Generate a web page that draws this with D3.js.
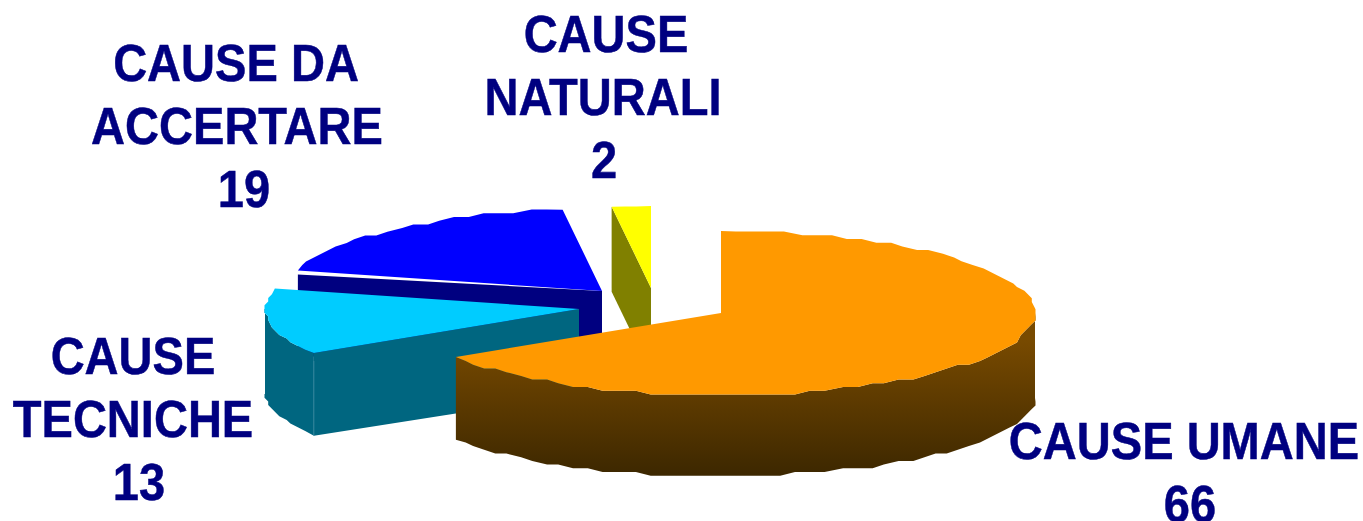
<!DOCTYPE html>
<html>
<head>
<meta charset="utf-8">
<script src="https://cdn.jsdelivr.net/npm/d3@7"></script>
<style>
    html, body { margin: 0; background: #fff; overflow: hidden; }
    svg { display: block; }
    text { font-family: "Liberation Sans", Arial, sans-serif; font-weight: bold; fill: #000080; stroke: #000080; stroke-width: 0.5px; text-anchor: middle; }
</style>
</head>
<body>
<div id="chart"></div>
<script>
const categories = ["CAUSE UMANE", "CAUSE TECNICHE", "CAUSE DA ACCERTARE", "CAUSE NATURALI"];
const values = [66, 13, 19, 2];
const topColors = ["#ff9900", "#00ccff", "#0000ff", "#ffff00"];
const sideColors = ["url(#orange-side)", "#006680", "#000080", "#808000"];

// exploded centre of each slice
const centerX = [721, 579, 602, 651];
const centerY = [313, 309, 291, 288];

const labelLines = [["CAUSE UMANE", "66"], ["CAUSE", "TECNICHE", "13"], ["CAUSE DA", "ACCERTARE", "19"], ["CAUSE", "NATURALI", "2"]];
const labelX = [[1184, 1190], [133, 133, 139], [236, 237, 244], [606, 603, 604]];
const labelY = [459, 374, 81, 52];

const width = 1363, height = 521;
const rx = 314, ry = 82, bottomRy = 78, depth = 85;
const lineGap = 63;
const stepDeg = 3, grid = 3.7;

const svg = d3.select("#chart").append("svg")
    .attr("width", width)
    .attr("height", height);

const grad = svg.append("defs").append("linearGradient")
    .attr("id", "orange-side")
    .attr("gradientUnits", "userSpaceOnUse")
    .attr("x1", 0).attr("x2", 0)
    .attr("y1", 340).attr("y2", 476);
grad.append("stop").attr("offset", 0).attr("stop-color", "#784a00");
grad.append("stop").attr("offset", 1).attr("stop-color", "#3c2700");

const arcs = d3.pie().sort(null)(values);

const line = d3.line();

// point on the rim of slice i at pie angle a
function rim(i, a, drop, r) {
    const x = d3.scaleLinear().domain([-1, 1]).range([centerX[i] - rx, centerX[i] + rx]);
    const y = d3.scaleLinear().domain([-1, 1]).range([centerY[i] + drop - r, centerY[i] + drop + r]);
    return [x(Math.sin(a)), y(-Math.cos(a))];
}

// jagged outline like the low resolution original, keeps only angles from..to
function rimPath(i, a0, a1, drop, r, from = a0, to = a1) {
    const n = Math.max(2, Math.ceil((a1 - a0) / (stepDeg * Math.PI / 180)));
    const cx = centerX[i], cy = centerY[i] + drop;
    const pts = [];
    d3.range(n + 1).forEach(k => {
        const angle = a0 + (a1 - a0) * k / n;
        if (angle < from || angle > to) return;
        const p = rim(i, angle, drop, r);
        if (k === 0 || k === n) pts.push(p);
        else pts.push([cx + Math.round((p[0] - cx) / grid) * grid, cy + Math.round((p[1] - cy) / grid) * grid]);
    });
    return pts;
}

const order = [3, 2, 1, 0];
const slices = svg.append("g").selectAll("g")
    .data(order)
    .join("g");

slices.each(function(i) {
    const g = d3.select(this);
    const a = arcs[i];
    const apex = [centerX[i], centerY[i]];
    const apexLow = [centerX[i], centerY[i] + depth];

    if (i >= 2) {
        // cut face of the back slices
        const p = rim(i, a.startAngle, 0, ry);
        const gap = i === 2 ? 4 : 0;
        g.append("path")
            .attr("d", line([[p[0], p[1] + gap], apex, apexLow, [p[0], p[1] + depth]]) + "Z")
            .attr("fill", sideColors[i]);
    }
    if (i === 1) {
        // cut face towards the viewer
        const p = rim(i, a.startAngle, 0, ry);
        const low = rim(i, a.startAngle, depth, bottomRy);
        g.append("path")
            .attr("d", line([p, apex, apexLow, low]) + "Z")
            .attr("fill", sideColors[i]);
    }
    if (i <= 1) {
        // outer wall, only the part that faces the viewer
        const from = i === 0 ? Math.PI / 2 : a.startAngle;
        const to = i === 0 ? a.endAngle : 1.5 * Math.PI;
        const edge = i === 0 ? from : to;
        const upper = rimPath(i, a.startAngle, a.endAngle, 0, ry, from, to);
        const lower = rimPath(i, a.startAngle, a.endAngle, depth, bottomRy, from, to);
        const band = i === 0
            ? [rim(i, edge, 0, ry), ...upper, ...lower.reverse(), rim(i, edge, depth, bottomRy)]
            : [...upper, rim(i, edge, 0, ry), rim(i, edge, depth, bottomRy), ...lower.reverse()];
        g.append("path")
            .attr("d", line(band) + "Z")
            .attr("fill", sideColors[i]);
    }
    if (i === 1) {
        // thin seam between the wall and the cut face
        const p = rim(i, a.startAngle, 0, ry);
        const low = rim(i, a.startAngle, depth, bottomRy);
        g.append("path")
            .attr("d", line([[p[0], p[1] + 8], low]))
            .attr("stroke", "#3f8ca5")
            .attr("stroke-width", 0.7);
    }
    // top of the slice
    const topPts = [apex].concat(rimPath(i, a.startAngle, a.endAngle, 0, ry));
    g.append("path")
        .attr("d", line(topPts) + "Z")
        .attr("fill", topColors[i]);
});

const labels = svg.append("g").selectAll("text")
    .data(labelLines.flatMap((lines, i) => lines.map((t, k) => ({ t, x: labelX[i][k], y: labelY[i] + k * lineGap }))))
    .join("text")
    .attr("transform", d => `translate(${d.x},${d.y}) scale(0.905,1)`)
    .style("font-size", "52px")
    .text(d => d.t);
</script>
</body>
</html>
